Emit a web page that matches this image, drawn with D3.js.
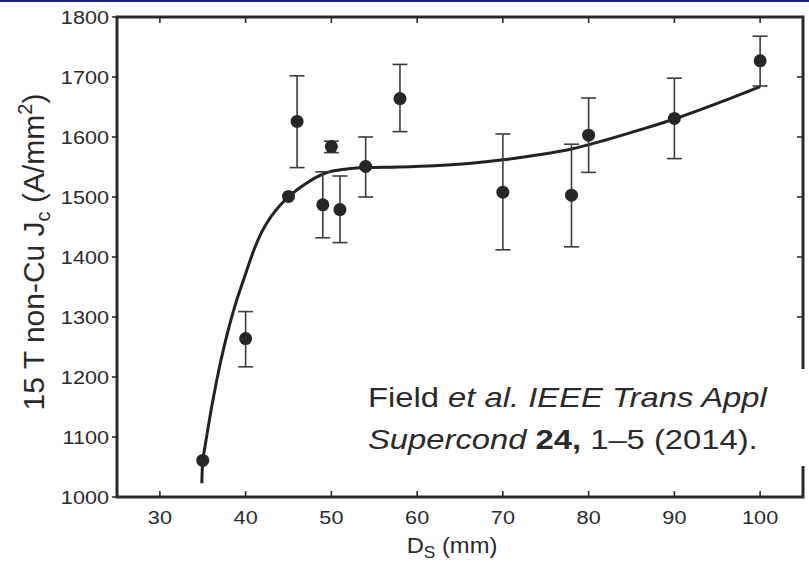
<!DOCTYPE html>
<html>
<head>
<meta charset="utf-8">
<script src="https://cdn.jsdelivr.net/npm/d3@7"></script>
<style>
  html, body { margin: 0; padding: 0; background: #fff; }
  svg { display: block; }
  text { font-family: "Liberation Sans", Arial, sans-serif; fill: #2a2a2a; }
</style>
</head>
<body>
<svg id="chart" width="809" height="562"></svg>
<script>
// ---- data ----
const diameters = [35, 40, 45, 46, 49, 50, 51, 54, 58, 70, 78, 80, 90, 100];
const jcValues  = [1061, 1264, 1501, 1626, 1487, 1584, 1479, 1551, 1664, 1508, 1503, 1603, 1631, 1727];
const errLow    = [null, 1217, null, 1549, 1432, 1574, 1424, 1500, 1609, 1412, 1417, 1541, 1564, 1685];
const errHigh   = [null, 1309, null, 1702, 1542, 1593, 1535, 1600, 1721, 1605, 1588, 1665, 1698, 1768];

// fitted trend line
const fitX = [34.9, 35, 35.5, 36, 36.5, 37, 37.5, 38, 38.5, 39, 40, 41, 42, 43, 44, 45, 46, 47, 48, 49, 50, 52, 54, 58, 62, 66, 70, 74, 78, 82, 86, 90, 95, 100];
const fitY = [1023, 1058, 1105, 1147, 1185, 1220, 1251, 1280, 1306, 1330, 1372, 1413, 1445, 1468, 1486, 1500, 1512, 1522, 1531, 1538, 1543, 1547, 1549, 1550, 1552, 1556, 1562, 1570, 1580, 1595, 1612, 1630, 1656, 1684];

const xTicks = [30, 40, 50, 60, 70, 80, 90, 100];
const yTicks = [1000, 1100, 1200, 1300, 1400, 1500, 1600, 1700, 1800];

const xTitle = "D";
const xTitleSub = "S";
const xTitleRest = " (mm)";
const citation1 = ["Field ", "et al. IEEE Trans Appl"];
const citation2 = ["Supercond ", "24,", " 1\u20135 (2014)."];

// ---- layout ----
const svg = d3.select("#chart");
const W = 809, H = 562;
const SX = 1.17; // horizontal stretch of glyphs in the reference
const ink = "#2a2a2a";

const x = d3.scaleLinear().domain([25, 105]).range([117, 803]);
const y = d3.scaleLinear().domain([1000, 1800]).range([497, 17]);

svg.append("rect").attr("width", W).attr("height", H).attr("fill", "#fff");
svg.append("rect").attr("x", 0).attr("y", 0).attr("width", W).attr("height", 2).attr("fill", "#1f2478");

function stretchedText(px, py, anchor, size, sx = SX) {
  return svg.append("text")
    .attr("transform", `translate(${px},${py}) scale(${sx},1)`)
    .attr("text-anchor", anchor)
    .style("font-size", size + "px");
}

// ---- axes ticks ----
const tickG = svg.append("g").attr("stroke", ink).attr("stroke-width", 1.6);
yTicks.forEach(v => {
  tickG.append("line").attr("x1", x(25) - 5).attr("x2", x(25)).attr("y1", y(v)).attr("y2", y(v));
  tickG.append("line").attr("x1", x(105)).attr("x2", x(105) - 6).attr("y1", y(v)).attr("y2", y(v));
  stretchedText(x(25) - 8, y(v) + 6.7, "end", 18.5).text(v);
});
xTicks.forEach(v => {
  tickG.append("line").attr("x1", x(v)).attr("x2", x(v)).attr("y1", y(1000)).attr("y2", y(1000) - 6);
  tickG.append("line").attr("x1", x(v)).attr("x2", x(v)).attr("y1", y(1800)).attr("y2", y(1800) + 6);
  stretchedText(x(v), y(1000) + 27, "middle", 18.5).text(v);
});

// ---- frame ----
svg.append("rect")
  .attr("x", x(25)).attr("y", y(1800))
  .attr("width", x(105) - x(25)).attr("height", y(1000) - y(1800))
  .attr("fill", "none").attr("stroke", ink).attr("stroke-width", 3);

// ---- fit curve ----
const line = d3.line().x(d => x(d[0])).y(d => y(d[1])).curve(d3.curveCatmullRom.alpha(0.5));
svg.append("path")
  .datum(fitX.map((v, i) => [v, fitY[i]]))
  .attr("d", line)
  .attr("fill", "none").attr("stroke", "#222").attr("stroke-width", 3);

// ---- error bars ----
const eb = svg.append("g").attr("stroke", "#3c3c3c").attr("stroke-width", 1.6);
diameters.forEach((d, i) => {
  if (errLow[i] == null) return;
  const cx = x(d);
  eb.append("line").attr("x1", cx).attr("x2", cx).attr("y1", y(errLow[i])).attr("y2", y(errHigh[i]));
  eb.append("line").attr("x1", cx - 7.5).attr("x2", cx + 7.5).attr("y1", y(errLow[i])).attr("y2", y(errLow[i]));
  eb.append("line").attr("x1", cx - 7.5).attr("x2", cx + 7.5).attr("y1", y(errHigh[i])).attr("y2", y(errHigh[i]));
});

// ---- points ----
svg.append("g").selectAll("circle")
  .data(diameters.map((d, i) => [d, jcValues[i]]))
  .join("circle")
  .attr("cx", d => x(d[0])).attr("cy", d => y(d[1])).attr("r", 6.5)
  .attr("fill", "#262626");

// ---- axis titles ----
const xt = stretchedText(452, 553, "middle", 22, 1.08);
xt.append("tspan").text(xTitle);
xt.append("tspan").attr("dy", 5).style("font-size", "16px").text(xTitleSub);
xt.append("tspan").attr("dy", -5).text(xTitleRest);

const yt = svg.append("text")
  .attr("transform", `translate(44,252) rotate(-90)`)
  .attr("text-anchor", "middle")
  .style("font-size", "30px");
yt.append("tspan").text("15 T non-Cu J");
yt.append("tspan").attr("dy", 6).style("font-size", "20px").text("c");
yt.append("tspan").attr("dy", -6).text(" (A/mm");
yt.append("tspan").attr("dy", -12).style("font-size", "20px").text("2");
yt.append("tspan").attr("dy", 12).text(")");

// ---- citation box ----
svg.append("rect").attr("x", 360).attr("y", 369).attr("width", 449).attr("height", 97).attr("fill", "#fff");
const c1 = stretchedText(368, 407, "start", 28);
c1.append("tspan").text(citation1[0]);
c1.append("tspan").style("font-style", "italic").text(citation1[1]);
const c2 = stretchedText(368, 449, "start", 28);
c2.append("tspan").style("font-style", "italic").text(citation2[0]);
c2.append("tspan").style("font-weight", "bold").text(citation2[1]);
c2.append("tspan").text(citation2[2]);
</script>
</body>
</html>
